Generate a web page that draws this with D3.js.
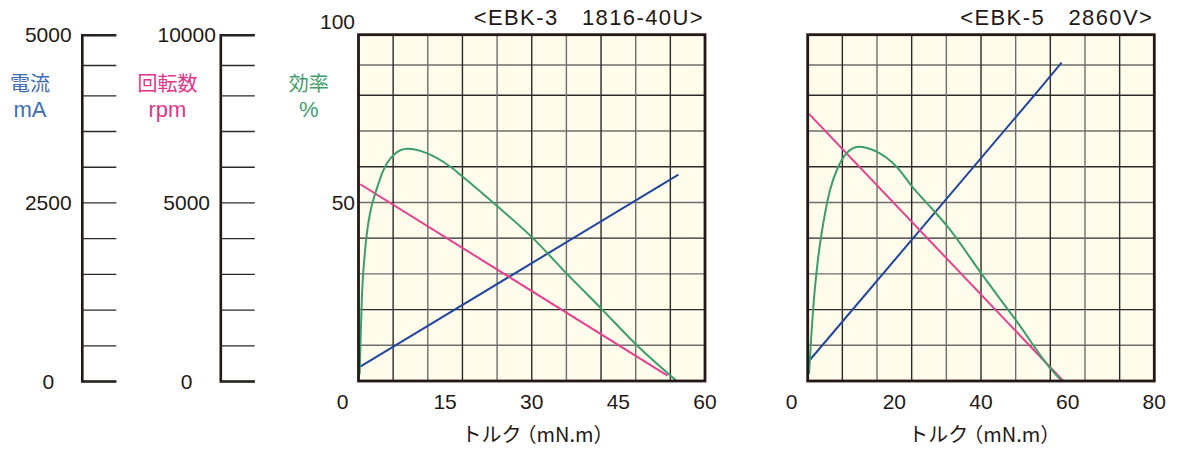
<!DOCTYPE html>
<html>
<head>
<meta charset="utf-8">
<script src="https://cdn.jsdelivr.net/npm/d3@7"></script>
<style>
  body { margin: 0; background: #fff; }
  text { font-family: "Liberation Sans", Arial, sans-serif; fill: #231815; }
  .jp { font-family: "Noto Sans CJK JP", sans-serif; }
</style>
</head>
<body>
<script>
const svgWidth = 1186
const svgHeight = 450

// left scales
const currentTicks = [0, 500, 1000, 1500, 2000, 2500, 3000, 3500, 4000, 4500, 5000]
const currentLabels = [0, 2500, 5000]
const rpmTicks = [0, 1000, 2000, 3000, 4000, 5000, 6000, 7000, 8000, 9000, 10000]
const rpmLabels = [0, 5000, 10000]
const effGrid = [10, 20, 30, 40, 50, 60, 70, 80, 90]
const effLabels = [50, 100]

// EBK-3 1816-40U
const ebk3XTicks = [0, 15, 30, 45, 60]
const ebk3XGrid = [6, 12, 18, 24, 30, 36, 42, 48, 54]
const ebk3CurTorque = [0.3, 55.4]
const ebk3Current = [200, 2890]
const ebk3RpmTorque = [0.3, 53.5]
const ebk3Rpm = [5510, 150]
const ebk3EffTorque = [0.2, 0.4, 0.6, 1.0, 1.5, 2.0, 3.2, 4.3, 6.1, 8.4, 11.8, 15.9, 18.2, 24, 30.2, 36.1, 42.2, 48.2, 55.1]
const ebk3Eff = [2, 14, 24, 34, 42, 47, 54, 59, 63.3, 65, 63.8, 60, 57, 49, 40, 30, 20, 10, 0]

// EBK-5 2860V
const ebk5XTicks = [0, 20, 40, 60, 80]
const ebk5XGrid = [8, 16, 24, 32, 40, 48, 56, 64, 72]
const ebk5CurTorque = [0.3, 52.3, 58.6]
const ebk5Current = [280, 4000, 4540]
const ebk5RpmTorque = [0.3, 59]
const ebk5Rpm = [7480, 0]
const ebk5EffTorque = [0.3, 1.3, 2.45, 3.6, 5.15, 7.06, 9.0, 11.7, 15.9, 20.5, 24.4, 29.4, 32.3, 40.3, 48.3, 56.3, 58.6]
const ebk5Eff = [2, 20.8, 34.8, 44.2, 53.5, 60, 63.8, 65.6, 64.2, 60, 54, 47.3, 43.2, 29.7, 16.6, 3.1, 0]

const blue = "#21479d"
const pink = "#e6408e"
const green = "#3b9f6d"

const plotTop = 34.7
const plotBottom = 381
const yBreak = 95.3

const svg = d3.select("body").append("svg")
  .attr("width", svgWidth)
  .attr("height", svgHeight)

// upper part of the grid is a bit tighter in the original
const yEff = d3.scaleLinear().domain([0, 80, 100]).range([plotBottom, yBreak, plotTop])
const yCur = yEff.copy().domain([0, 4000, 5000])
const yRpm = yEff.copy().domain([0, 8000, 10000])

function sideAxis(scale, ticks, labels, x, labelX) {
  const g = svg.append("g").attr("transform", `translate(${x},0)`)
    .call(d3.axisRight(scale).tickValues(ticks).tickSize(34.5).tickFormat(""))
  g.select(".domain").attr("stroke", "#231815").attr("stroke-width", 2.6)
  g.selectAll(".tick line").attr("stroke", "#2a2a2a").attr("stroke-width", 1.3)
  svg.selectAll(null).data(labels).enter().append("text")
    .attr("x", labelX)
    .attr("y", d => scale(d))
    .attr("dy", "0.36em")
    .attr("text-anchor", "middle")
    .style("font-size", "21px")
    .text(d => d)
}

sideAxis(yCur, currentTicks, currentLabels, 81.8, 48.3)
sideAxis(yRpm, rpmTicks, rpmLabels, 220.3, 186.7)

function unitLabel(x, top, bottom, color) {
  svg.append("text").attr("class", "jp").attr("x", x).attr("y", 91)
    .attr("text-anchor", "middle").style("font-size", "20px").style("fill", color)
    .text(top)
  svg.append("text").attr("x", x).attr("y", 117)
    .attr("text-anchor", "middle").style("font-size", "22px").style("fill", color)
    .text(bottom)
}
unitLabel(30, "電流", "mA", "#3d6db6")
unitLabel(167.5, "回転数", "rpm", "#e4358b")
unitLabel(308.8, "効率", "%", "#3d9e6c")

function drawChart(opt) {
  const x = d3.scaleLinear().domain(opt.xDomain).range(opt.xRange)
  const g = svg.append("g")

  g.append("rect")
    .attr("x", opt.xRange[0]).attr("y", plotTop)
    .attr("width", opt.xRange[1] - opt.xRange[0])
    .attr("height", plotBottom - plotTop)
    .attr("fill", "#fffcec")

  g.selectAll(".hgrid").data(effGrid).enter().append("line")
    .attr("x1", opt.xRange[0]).attr("x2", opt.xRange[1])
    .attr("y1", d => yEff(d)).attr("y2", d => yEff(d))
    .attr("stroke", (d, i) => i % 2 ? "#2a2a2a" : "#6e6e6e")
    .attr("stroke-width", 1.4)

  g.selectAll(".vgrid").data(opt.xGrid).enter().append("line")
    .attr("x1", d => x(d)).attr("x2", d => x(d))
    .attr("y1", plotTop).attr("y2", plotBottom)
    .attr("stroke", (d, i) => i % 2 ? "#6e6e6e" : "#2a2a2a")
    .attr("stroke-width", 1.4)

  const series = [
    { t: opt.curT, v: opt.cur, y: yCur, c: blue },
    { t: opt.rpmT, v: opt.rpm, y: yRpm, c: pink },
    { t: opt.effT, v: opt.eff, y: yEff, c: green }
  ]
  series.forEach(s => {
    const line = d3.line()
      .x((d, i) => x(s.t[i]))
      .y(d => s.y(d))
      .curve(s.c === green ? d3.curveMonotoneX : d3.curveLinear)
    g.append("path")
      .attr("d", line(s.v))
      .attr("fill", "none")
      .attr("stroke", s.c)
      .attr("stroke-width", 2)
  })

  g.append("rect")
    .attr("x", opt.xRange[0]).attr("y", plotTop)
    .attr("width", opt.xRange[1] - opt.xRange[0])
    .attr("height", plotBottom - plotTop)
    .attr("fill", "none")
    .attr("stroke", "#231815")
    .attr("stroke-width", 2.8)

  g.selectAll(".xlab").data(opt.xTicks).enter().append("text")
    .attr("x", d => x(d) + (d === 0 ? -16 : 0))
    .attr("y", 401)
    .attr("dy", "0.36em")
    .attr("text-anchor", "middle")
    .style("font-size", "21px")
    .text(d => d)

  if (opt.yLabels) {
    g.selectAll(".ylab").data(effLabels).enter().append("text")
      .attr("x", 355)
      .attr("y", d => yEff(d) + (d === 100 ? -13 : 0))
      .attr("dy", "0.36em")
      .attr("text-anchor", "end")
      .style("font-size", "21px")
      .text(d => d)
  }

  g.append("text")
    .attr("x", opt.xRange[1] - 1)
    .attr("y", 17)
    .attr("dy", "0.36em")
    .attr("text-anchor", "end")
    .style("font-size", "22px")
    .style("letter-spacing", "1.4px")
    .text(opt.title)

  const xt = g.append("text").attr("class", "jp")
    .attr("x", opt.xRange[0] + opt.titleDx)
    .attr("y", 435)
    .attr("dy", "0.36em")
    .style("font-size", "20px")
  xt.append("tspan").text("トルク")
  xt.append("tspan").attr("dx", -5).text("（mN.m）")
}

drawChart({
  title: "<EBK-3\u30001816-40U>",
  xDomain: [0, 60], xRange: [358.5, 705], titleDx: 103,
  xTicks: ebk3XTicks, xGrid: ebk3XGrid, yLabels: true,
  curT: ebk3CurTorque, cur: ebk3Current,
  rpmT: ebk3RpmTorque, rpm: ebk3Rpm,
  effT: ebk3EffTorque, eff: ebk3Eff
})

drawChart({
  title: "<EBK-5\u30002860V>",
  xDomain: [0, 80], xRange: [807.7, 1154.3], titleDx: 100.6,
  xTicks: ebk5XTicks, xGrid: ebk5XGrid, yLabels: false,
  curT: ebk5CurTorque, cur: ebk5Current,
  rpmT: ebk5RpmTorque, rpm: ebk5Rpm,
  effT: ebk5EffTorque, eff: ebk5Eff
})
</script>
</body>
</html>
